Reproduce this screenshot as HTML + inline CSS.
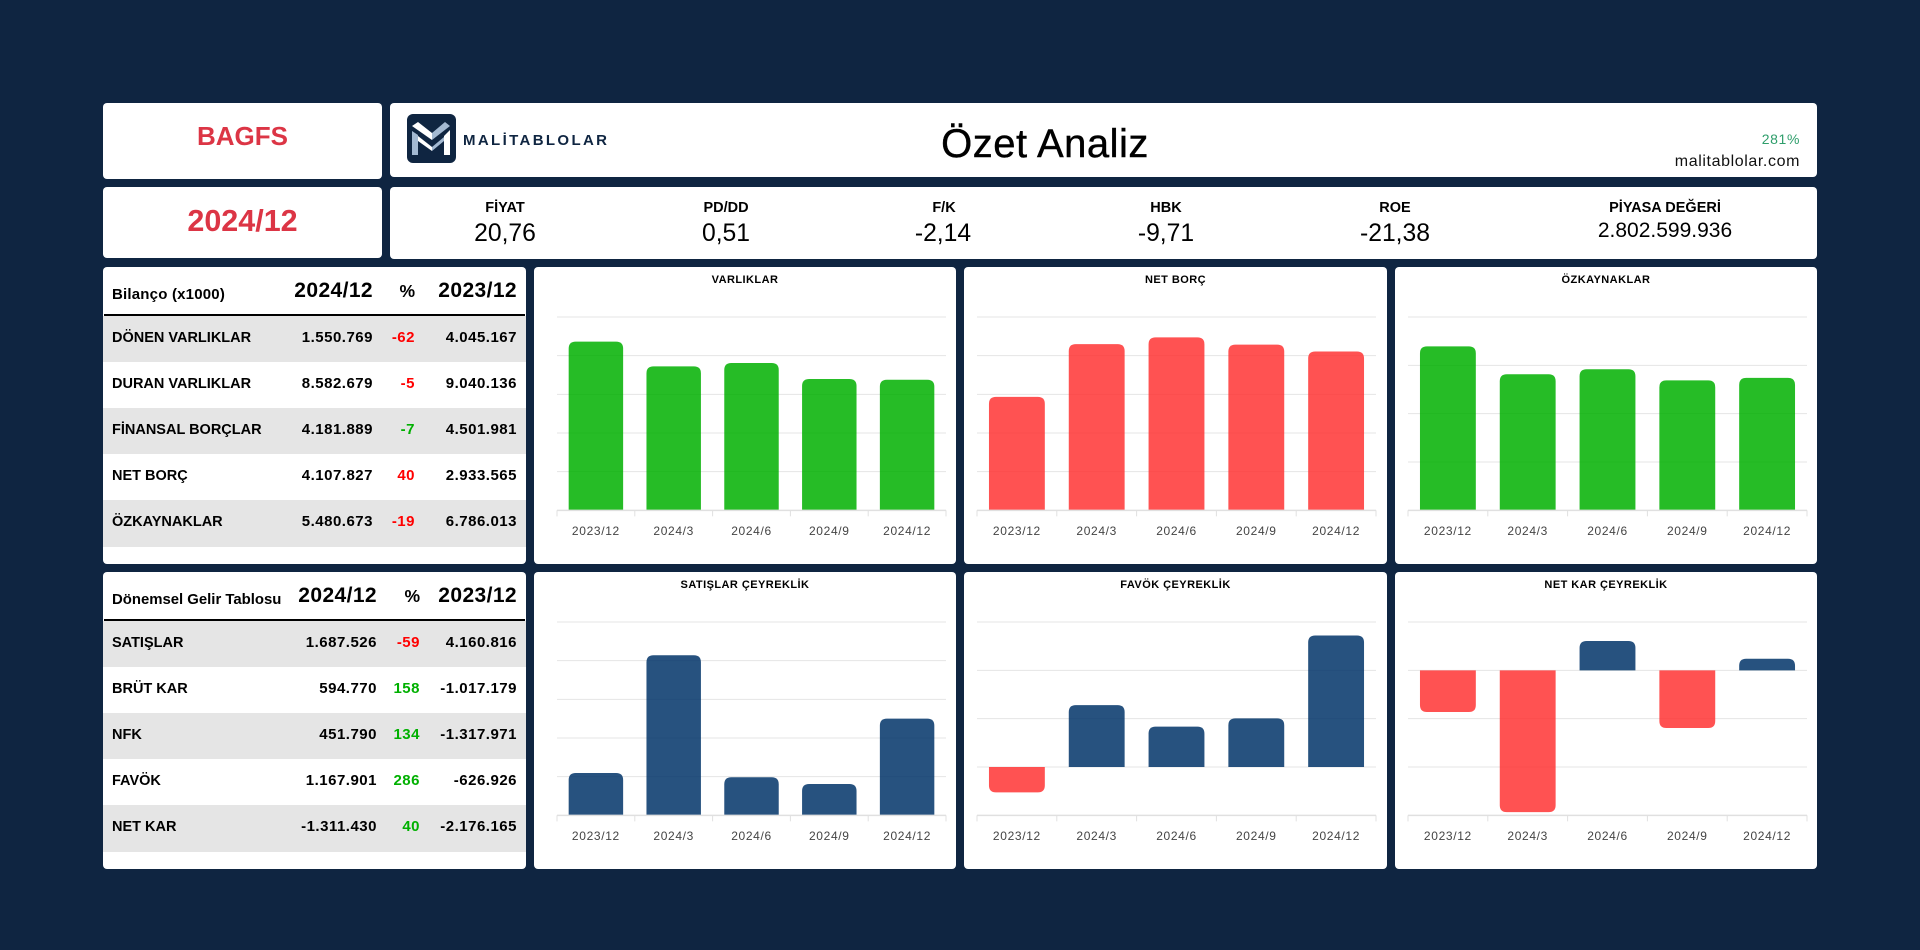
<!DOCTYPE html>
<html lang="tr">
<head>
<meta charset="utf-8">
<title>BAGFS Özet Analiz</title>
<style>
html,body{margin:0;padding:0;width:1920px;height:950px;overflow:hidden;background:#0f2541;font-family:"Liberation Sans",sans-serif;color:#000}
.card{position:absolute;background:#fff;border-radius:4px;overflow:hidden}
.t{position:absolute;white-space:nowrap;line-height:30px;height:30px}
.c{transform:translateX(-50%)}
.kl{font-weight:700;font-size:14.5px}
.kv{font-size:24.7px}
.hdr{position:absolute;left:0;top:0;width:100%;height:49px;border-bottom:0}
.rule{position:absolute;left:1px;right:1px;top:47px;height:2px;background:#000}
.hl{position:absolute;left:9px;top:13px;line-height:30px;font-weight:700;font-size:15px;letter-spacing:.2px;white-space:nowrap}
.hv{position:absolute;top:9px;line-height:30px;font-weight:700;font-size:21px;letter-spacing:.4px;white-space:nowrap}
.hv.p{font-size:17.5px;letter-spacing:0}
.row{position:absolute;left:0;width:100%;height:46px}
.row.g{background:#e5e5e5}
.row.last{height:47px}
.rl{position:absolute;left:9px;top:0;line-height:45px;font-weight:700;font-size:14.5px;letter-spacing:0;white-space:nowrap}
.rv{position:absolute;top:0;line-height:44px;font-weight:700;font-size:15px;letter-spacing:.5px;white-space:nowrap}
.a1{right:153px}.a2{right:111px}.a3{right:9px}
.b1{right:149px}.b2{right:106px}.b3{right:9px}
.neg{color:#f00}.pos{color:#00b000}
svg{position:absolute;left:0;top:0}
svg text{font-family:"Liberation Sans",sans-serif}
</style>
</head>
<body>

<div class="card" style="left:103px;top:103px;width:279px;height:76px">
  <div class="t c" style="left:139.5px;top:18px;font-size:26px;font-weight:700;color:#dc3545">BAGFS</div>
</div>
<div class="card" style="left:103px;top:187px;width:279px;height:71px">
  <div class="t c" style="left:139.5px;top:19px;font-size:30.5px;font-weight:700;color:#dc3545">2024/12</div>
</div>

<div class="card" style="left:390px;top:103px;width:1427px;height:74px">
  <svg width="240" height="74">
    <rect x="17" y="11" width="49" height="49" rx="6" fill="#0f2541"/>
    <g transform="translate(17,11)">
      <polygon points="5,12 11,8 25,19 25,26" fill="#fff"/>
      <polygon points="25,19 38,8 43,12 25,26" fill="#a3b9d2"/>
      <polygon points="5,17 11,21 11,41 5,41" fill="#a3b9d2"/>
      <polygon points="37,22 43,16 43,41 37,41" fill="#fff"/>
      <polygon points="11,22 25,33 25,37 11,27" fill="#fff"/>
      <polygon points="25,33 37,23 37,27 25,37" fill="#a3b9d2"/>
    </g>
    <text x="73" y="42" font-size="15" font-weight="700" fill="#0f2541" textLength="144" lengthAdjust="spacing">MALİTABLOLAR</text>
  </svg>
  <div class="t c" style="left:655px;top:16px;height:50px;line-height:50px;font-size:40px;letter-spacing:.5px;-webkit-text-stroke:.4px #000">Özet Analiz</div>
  <div class="t" style="right:17px;top:21px;font-size:14px;letter-spacing:.6px;color:#2f9e6b">281%</div>
  <div class="t" style="right:17px;top:44px;font-size:16px;letter-spacing:.6px;color:#111">malitablolar.com</div>
</div>

<div class="card" style="left:390px;top:187px;width:1427px;height:72px">
  <div class="t c kl" style="left:115px;top:6px">FİYAT</div>
  <div class="t c kv" style="left:115px;top:32px">20,76</div>
  <div class="t c kl" style="left:336px;top:6px">PD/DD</div>
  <div class="t c kv" style="left:336px;top:32px">0,51</div>
  <div class="t c kl" style="left:554px;top:6px">F/K</div>
  <div class="t c kv" style="left:553px;top:32px">-2,14</div>
  <div class="t c kl" style="left:776px;top:6px">HBK</div>
  <div class="t c kv" style="left:776px;top:32px">-9,71</div>
  <div class="t c kl" style="left:1005px;top:6px">ROE</div>
  <div class="t c kv" style="left:1005px;top:32px">-21,38</div>
  <div class="t c kl" style="left:1275px;top:6px">PİYASA DEĞERİ</div>
  <div class="t c" style="left:1275px;top:29px;font-size:21px">2.802.599.936</div>
</div>

<div class="card" style="left:103px;top:267px;width:423px;height:297px">
  <div class="hl">Bilanço (x1000)</div>
  <div class="hv a1">2024/12</div>
  <div class="hv a2 p">%</div>
  <div class="hv a3">2023/12</div>
  <div class="rule"></div>
  <div class="row g" style="top:49px"><span class="rl">DÖNEN VARLIKLAR</span><span class="rv a1">1.550.769</span><span class="rv a2 neg">-62</span><span class="rv a3">4.045.167</span></div>
  <div class="row" style="top:95px"><span class="rl">DURAN VARLIKLAR</span><span class="rv a1">8.582.679</span><span class="rv a2 neg">-5</span><span class="rv a3">9.040.136</span></div>
  <div class="row g" style="top:141px"><span class="rl">FİNANSAL BORÇLAR</span><span class="rv a1">4.181.889</span><span class="rv a2 pos">-7</span><span class="rv a3">4.501.981</span></div>
  <div class="row" style="top:187px"><span class="rl">NET BORÇ</span><span class="rv a1">4.107.827</span><span class="rv a2 neg">40</span><span class="rv a3">2.933.565</span></div>
  <div class="row g last" style="top:233px"><span class="rl">ÖZKAYNAKLAR</span><span class="rv a1">5.480.673</span><span class="rv a2 neg">-19</span><span class="rv a3">6.786.013</span></div>
</div>

<div class="card" style="left:103px;top:572px;width:423px;height:297px">
  <div class="hl" style="font-size:14.9px;letter-spacing:0">Dönemsel Gelir Tablosu</div>
  <div class="hv b1">2024/12</div>
  <div class="hv b2 p">%</div>
  <div class="hv b3">2023/12</div>
  <div class="rule"></div>
  <div class="row g" style="top:49px"><span class="rl">SATIŞLAR</span><span class="rv b1">1.687.526</span><span class="rv b2 neg">-59</span><span class="rv b3">4.160.816</span></div>
  <div class="row" style="top:95px"><span class="rl">BRÜT KAR</span><span class="rv b1">594.770</span><span class="rv b2 pos">158</span><span class="rv b3">-1.017.179</span></div>
  <div class="row g" style="top:141px"><span class="rl">NFK</span><span class="rv b1">451.790</span><span class="rv b2 pos">134</span><span class="rv b3">-1.317.971</span></div>
  <div class="row" style="top:187px"><span class="rl">FAVÖK</span><span class="rv b1">1.167.901</span><span class="rv b2 pos">286</span><span class="rv b3">-626.926</span></div>
  <div class="row g last" style="top:233px"><span class="rl">NET KAR</span><span class="rv b1">-1.311.430</span><span class="rv b2 pos">40</span><span class="rv b3">-2.176.165</span></div>
</div>

<div id="charts"></div>

<script>
const categories = ['2023/12', '2024/3', '2024/6', '2024/9', '2024/12'];

const varliklarValues = [13085303, 11170000, 11430000, 10190000, 10133352];
const netBorcValues = [2933565, 4300000, 4474000, 4285000, 4107827];
const ozkaynakValues = [6786013, 5630000, 5840000, 5380000, 5480673];
const satisValues = [219000, 828000, 197000, 162000, 500526];
const favokValues = [-105000, 256000, 167000, 201000, 543901];
const netKarValues = [-345000, -1173000, 243000, -477000, 95570];

const varliklarTicks = [0, 3000000, 6000000, 9000000, 12000000, 15000000];
const netBorcTicks = [0, 1000000, 2000000, 3000000, 4000000, 5000000];
const ozkaynakTicks = [0, 2000000, 4000000, 6000000, 8000000];
const satisTicks = [0, 200000, 400000, 600000, 800000, 1000000];
const favokTicks = [-200000, 0, 200000, 400000, 600000];
const netKarTicks = [-1200000, -800000, -400000, 0, 400000];

const SVG_NS = 'http://www.w3.org/2000/svg';
const GREEN = 'rgb(0,176,0)';
const RED = 'rgb(255,52,52)';
const BLUE = 'rgb(1,52,105)';
const container = document.getElementById('charts');

function drawChart(opt) {
  const values = opt.values;
  const ticks = opt.ticks;
  const cardTop = opt.top;
  const plotTop = cardTop + 50;
  const plotBottom = cardTop + 243.33;
  const plotLeft = opt.plotLeft - opt.left;
  const plotRight = opt.plotRight - opt.left;
  const yMin = ticks[0];
  const yMax = ticks[ticks.length - 1];
  const y = function (v) {
    return (plotBottom - cardTop) - (v - yMin) / (yMax - yMin) * (plotBottom - plotTop);
  };
  const band = (plotRight - plotLeft) / categories.length;
  const x = function (i) { return plotLeft + band * i; };

  const card = document.createElement('div');
  card.className = 'card';
  
  
  card.style.left = opt.left + 'px';
  card.style.top = cardTop + 'px';
  card.style.width = opt.width + 'px';
  card.style.height = '297px';

  const svg = document.createElementNS(SVG_NS, 'svg');
  svg.setAttribute('width', opt.width);
  svg.setAttribute('height', 297);
  
  

  const title = document.createElementNS(SVG_NS, 'text');
  
  
  title.setAttribute('x', opt.width / 2);
  title.setAttribute('y', 16);
  title.setAttribute('text-anchor', 'middle');
  title.setAttribute('font-size', '11');
  title.setAttribute('font-weight', '700');
  title.setAttribute('letter-spacing', '0.45');
  title.setAttribute('fill', '#000');
  title.textContent = opt.title;
  svg.appendChild(title);

  ticks.forEach(function (tick, i) {
    if (i === 0) return;
    const grid = document.createElementNS(SVG_NS, 'line');
    
    
    grid.setAttribute('x1', plotLeft);
    grid.setAttribute('x2', plotRight);
    grid.setAttribute('y1', y(tick));
    grid.setAttribute('y2', y(tick));
    grid.setAttribute('stroke', '#e4e4e4');
    grid.setAttribute('stroke-width', '1');
    svg.appendChild(grid);
  });

  values.forEach(function (v, i) {
    const barW = band * 0.7;
    const bx = x(i) + (band - barW) / 2;
    const y0 = y(Math.max(0, yMin));
    const yv = y(v);
    const h = Math.abs(y0 - yv);
    const r = Math.min(7, h);
    const up = v >= 0;
    const s = up ? 1 : -1;
    const d = 'M' + bx + ' ' + y0 +
      'V' + (yv + s * r) +
      'Q' + bx + ' ' + yv + ' ' + (bx + r) + ' ' + yv +
      'H' + (bx + barW - r) +
      'Q' + (bx + barW) + ' ' + yv + ' ' + (bx + barW) + ' ' + (yv + s * r) +
      'V' + y0 + 'Z';
    const bar = document.createElementNS(SVG_NS, 'path');
    
    
    bar.setAttribute('d', d);
    bar.setAttribute('fill', up ? opt.posColor : opt.negColor);
    bar.setAttribute('fill-opacity', '0.85');
    svg.appendChild(bar);
  });

  const axis = document.createElementNS(SVG_NS, 'line');
  
  
  axis.setAttribute('x1', plotLeft);
  axis.setAttribute('x2', plotRight);
  axis.setAttribute('y1', y(yMin));
  axis.setAttribute('y2', y(yMin));
  axis.setAttribute('stroke', '#e0e0e0');
  axis.setAttribute('stroke-width', '1.5');
  svg.appendChild(axis);

  for (let i = 0; i <= categories.length; i++) {
    const tickMark = document.createElementNS(SVG_NS, 'line');
    
    
    tickMark.setAttribute('x1', x(i));
    tickMark.setAttribute('x2', x(i));
    tickMark.setAttribute('y1', y(yMin));
    tickMark.setAttribute('y2', y(yMin) + 6);
    tickMark.setAttribute('stroke', '#e0e0e0');
    tickMark.setAttribute('stroke-width', '1');
    svg.appendChild(tickMark);
  }

  categories.forEach(function (c, i) {
    const label = document.createElementNS(SVG_NS, 'text');
    
    
    label.setAttribute('x', x(i) + band / 2);
    label.setAttribute('y', y(yMin) + 24.5);
    label.setAttribute('text-anchor', 'middle');
    label.setAttribute('font-size', '12');
    label.setAttribute('letter-spacing', '0.65');
    label.setAttribute('fill', '#444');
    label.textContent = c;
    svg.appendChild(label);
  });

  card.appendChild(svg);
  container.appendChild(card);
}

drawChart({name: 'varliklar', title: 'VARLIKLAR', values: varliklarValues, ticks: varliklarTicks, left: 534, width: 422, top: 267, plotLeft: 557, plotRight: 946, posColor: GREEN, negColor: RED});
drawChart({name: 'net-borc', title: 'NET BORÇ', values: netBorcValues, ticks: netBorcTicks, left: 964, width: 423, top: 267, plotLeft: 977, plotRight: 1376, posColor: RED, negColor: RED});
drawChart({name: 'ozkaynaklar', title: 'ÖZKAYNAKLAR', values: ozkaynakValues, ticks: ozkaynakTicks, left: 1395, width: 422, top: 267, plotLeft: 1408, plotRight: 1807, posColor: GREEN, negColor: RED});
drawChart({name: 'satislar', title: 'SATIŞLAR ÇEYREKLİK', values: satisValues, ticks: satisTicks, left: 534, width: 422, top: 572, plotLeft: 557, plotRight: 946, posColor: BLUE, negColor: RED});
drawChart({name: 'favok', title: 'FAVÖK ÇEYREKLİK', values: favokValues, ticks: favokTicks, left: 964, width: 423, top: 572, plotLeft: 977, plotRight: 1376, posColor: BLUE, negColor: RED});
drawChart({name: 'net-kar', title: 'NET KAR ÇEYREKLİK', values: netKarValues, ticks: netKarTicks, left: 1395, width: 422, top: 572, plotLeft: 1408, plotRight: 1807, posColor: BLUE, negColor: RED});
</script>
</body>
</html>
